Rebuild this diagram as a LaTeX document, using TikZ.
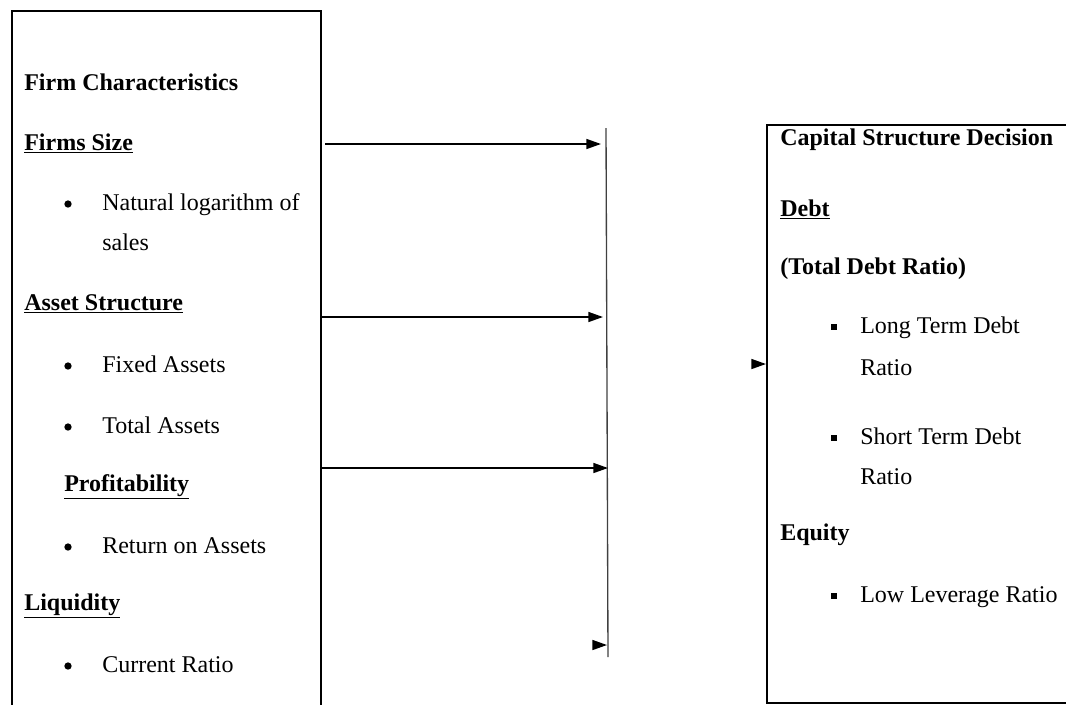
\documentclass[tikz,border=0pt]{standalone}
\usepackage{fontspec}
\setmainfont{Liberation Serif}
\usetikzlibrary{arrows.meta}

\begin{document}
\begin{tikzpicture}[
  x=0.75pt, y=-0.75pt,
  box/.style      = {draw, line width=1.4pt, anchor=north west, inner sep=0pt},
  bar/.style      = {line width=1pt, black!75},
  arrow/.style    = {line width=1.1pt, -{Triangle[length=11pt,width=7.5pt]}},
  head/.style     = {anchor=base west, inner sep=0pt, font=\fontsize{18}{20}\selectfont\bfseries},
  item/.style     = {anchor=base west, inner sep=0pt, font=\fontsize{18}{20}\selectfont},
  dot/.style      = {circle, fill, minimum size=5.5pt, inner sep=0pt},
  square/.style   = {fill, minimum size=4.5pt, inner sep=0pt},
]
  \clip (0,0) rectangle (1066,704);

  % the two boxes (both run off the page edge)
  \node[box, minimum width=231.75pt, minimum height=540pt] (firm) at (11,10) {};
  \node[box, minimum width=240pt, minimum height=433.5pt] (csd) at (766,124) {};

  % left box
  \node[head] (fc) at (24,90) {Firm Characteristics};
  \node[head] (fs) at (24,150) {\underline{Firms Size}};
  \node[dot]  (b1) at (68,204) {};
  \node[item] (nl) at (102,210) {Natural logarithm of};
  \node[item] (sl) at (102,250) {sales};
  \node[head] (as) at (24,310) {\underline{Asset Structure}};
  \node[dot]  (b2) at (68,366) {};
  \node[item] (fa) at (102,372) {Fixed Assets};
  \node[dot]  (b3) at (68,427) {};
  \node[item] (ta) at (102,433) {Total Assets};
  \node[head] (pr) at (64,491) {\underline{Profitability}};
  \node[dot]  (b4) at (68,547) {};
  \node[item] (ro) at (102,553) {Return on Assets};
  \node[head] (lq) at (24,610) {\underline{Liquidity}};
  \node[dot]  (b5) at (68,666) {};
  \node[item] (cr) at (102,672) {Current Ratio};

  % right box
  \node[head] (cs) at (780,145) {Capital Structure Decision};
  \node[head] (db) at (780,216) {\underline{Debt}};
  \node[head] (td) at (780,274) {(Total Debt Ratio)};
  \node[square] (s1) at (834,327) {};
  \node[item] (lt) at (860,333) {Long Term Debt};
  \node[item] (lr) at (860,375) {Ratio};
  \node[square] (s2) at (834,438) {};
  \node[item] (st) at (860,444) {Short Term Debt};
  \node[item] (sr) at (860,484) {Ratio};
  \node[head] (eq) at (780,540) {Equity};
  \node[square] (s3) at (834,596) {};
  \node[item] (ll) at (860,602) {Low Leverage Ratio};

  % collecting bar and arrows
  \coordinate (bartop) at (606,128);
  \coordinate (barbot) at (608,657);
  \draw[bar] (bartop) -- (barbot);

  \coordinate (out1) at (325,144);
  \coordinate (in1)  at (601,144);
  \coordinate (in2)  at (603,317);
  \coordinate (in3)  at (608,468);
  \coordinate (out4) at (596,645);
  \coordinate (in4)  at (607,645);
  \coordinate (out5) at (754,364);

  \draw[arrow] (out1) -- (in1);
  \draw[arrow] (firm.east |- in2) -- (in2);
  \draw[arrow] (firm.east |- in3) -- (in3);
  \draw[arrow] (out4) -- (in4);
  \draw[arrow] (out5) -- (csd.west |- out5);
\end{tikzpicture}
\end{document}
